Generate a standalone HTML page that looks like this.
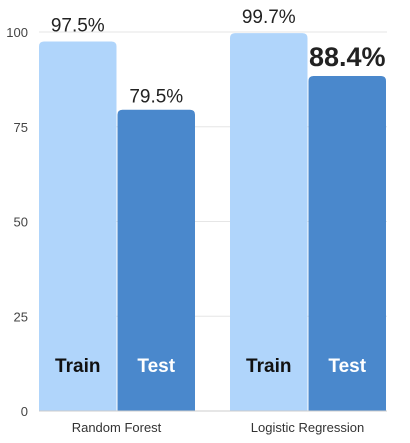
<!DOCTYPE html>
<html><head><meta charset="utf-8"><style>
body{margin:0;background:#fff;font-family:"Liberation Sans",sans-serif}
svg{display:block}
</style></head><body>
<svg id="c" width="410" height="443"></svg>
<script>
const categories=["Random Forest","Logistic Regression"];
const trainValues=[97.5,99.7];
const testValues=[79.5,88.4];
const trainLabels=["97.5%","99.7%"];
const testLabels=["79.5%","88.4%"];
const yTicks=[0,25,50,75,100];

const svg=document.getElementById('c');
const NS='http://www.w3.org/2000/svg';
const x0=39,x1=387,yBase=411,yTop=32;
function y(v){return yBase-(v/100)*(yBase-yTop);}
const groupW=(x1-x0)/categories.length;
function mk(t,a,txt){const e=document.createElementNS(NS,t);for(const k in a)e.setAttribute(k,a[k]);if(txt!==undefined)e.textContent=txt;svg.appendChild(e);return e;}

yTicks.forEach(t=>{
  if(t>0){const g=mk('line',{x1:x0,x2:x1,y1:y(t),y2:y(t),stroke:'#e6e6e6','stroke-width':1});
  
  }
  const l=mk('text',{x:28,y:y(t)+5,'text-anchor':'end','font-size':13,fill:'#444'},t);
  
  
});

function bar(xl,w,v,fill,name){
  const h=yBase-y(v),r=5;
  const p=mk('path',{d:`M${xl},${yBase}V${y(v)+r}Q${xl},${y(v)} ${xl+r},${y(v)}H${xl+w-r}Q${xl+w},${y(v)} ${xl+w},${y(v)+r}V${yBase}Z`,fill:fill});
  
  
}
categories.forEach((c,i)=>{
  const gx=x0+i*groupW+(i===0?0:17);
  const bw=77.5;
  bar(gx,bw,trainValues[i],'#b0d5fb','bar-train-'+i);
  bar(gx+bw+1,bw,testValues[i],'#4a88cc','bar-test-'+i);
  const tl=mk('text',{x:gx+bw/2,y:y(trainValues[i])-10,'text-anchor':'middle','font-size':19,fill:'#222'},trainLabels[i]);
  
  
  const big=i===1;
  const sl=mk('text',{x:gx+bw+1+bw/2,y:y(testValues[i])-(big?10:7),'text-anchor':'middle','font-size':big?27:19,'font-weight':big?'bold':'normal',fill:'#222'},testLabels[i]);
  
  
  const a=mk('text',{x:gx+bw/2,y:372,'text-anchor':'middle','font-size':19,'font-weight':'bold',fill:'#111'},'Train');
  
  
  const b=mk('text',{x:gx+bw+1+bw/2,y:372,'text-anchor':'middle','font-size':19,'font-weight':'bold',fill:'#fff'},'Test');
  
  
  const cl=mk('text',{x:gx+bw,y:432,'text-anchor':'middle','font-size':13,fill:'#333'},c);
  
  
});
const ax=mk('line',{x1:x0,x2:x1,y1:yBase,y2:yBase,stroke:'#ccc','stroke-width':1});


</script>
</body></html>
